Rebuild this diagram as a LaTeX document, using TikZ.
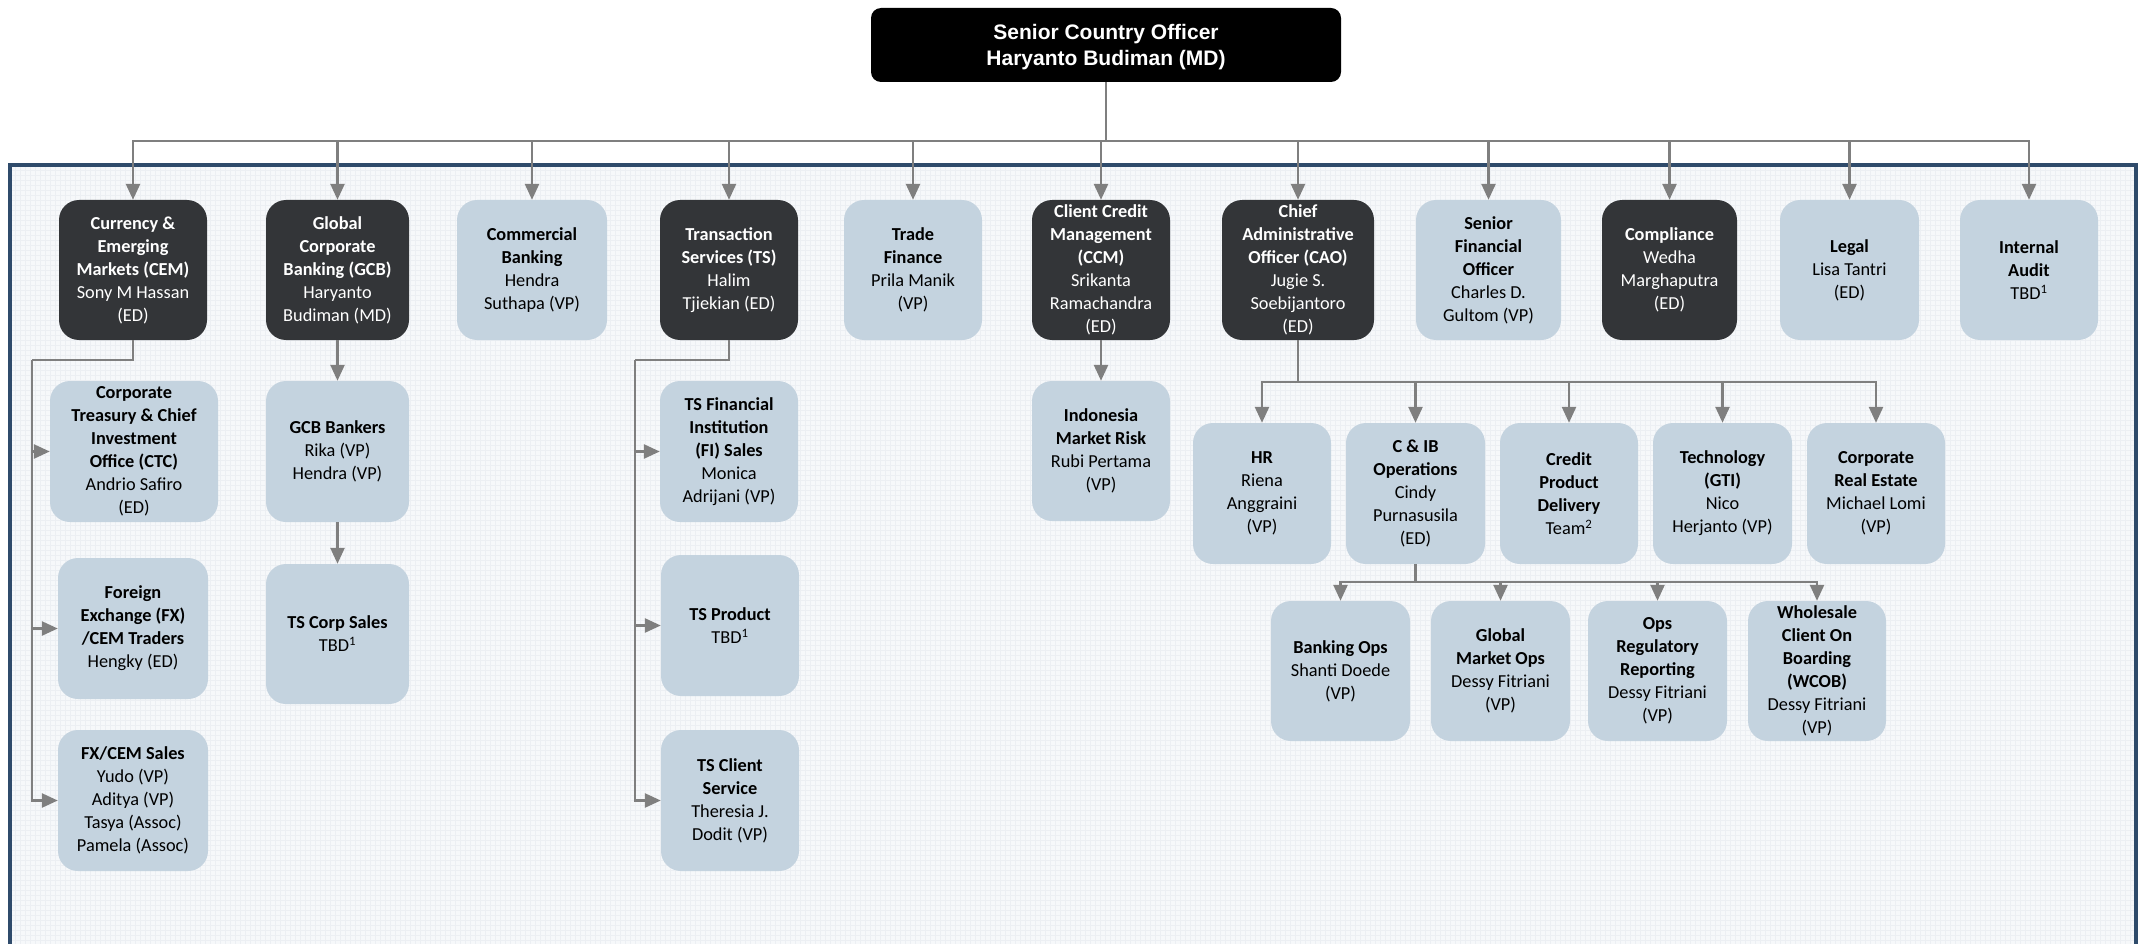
\documentclass[tikz,border=0pt]{standalone}
\usepackage{fontspec}
\setmainfont{Carlito}
\newfontfamily\arialfont{Liberation Sans}
\usetikzlibrary{arrows.meta,calc}
\definecolor{lightbox}{HTML}{C4D3DF}
\definecolor{darkbox}{HTML}{333538}
\definecolor{conn}{HTML}{7F7F7F}
\definecolor{panelborder}{HTML}{2F4B6B}
\definecolor{panelfill}{HTML}{F6F8FA}
\definecolor{gridc}{HTML}{ECEFF3}
\begin{document}
\begin{tikzpicture}[x=1pt,y=-1pt,
 box/.style={rectangle, rounded corners=20pt, inner sep=0pt, align=center, font=\fontsize{18.3}{23}\selectfont},
 lbox/.style={box, fill=lightbox, text=black},
 dbox/.style={box, fill=darkbox, text=white},
 sz/.style 2 args={minimum width=#1pt, minimum height=#2pt},
 line/.style={draw=conn, line width=2.6pt},
 arr/.style={line, -{Triangle[width=14pt,length=16pt]}},
]
\useasboundingbox (0,0) rectangle (2138,944);
% panel
\fill[panelfill] (10,165) rectangle (2136,960);
\begin{scope}
\clip (12,167) rectangle (2134,944);
\draw[gridc, line width=0.4pt, step=5pt] (12,167) grid (2134,944);
\end{scope}
\draw[panelborder, line width=4pt] (10,960) -- (10,165) -- (2136,165) -- (2136,960);

% top
\node[fill=black, rounded corners=10pt, minimum width=470pt, minimum height=74pt, inner sep=0pt] (sco) at (1106,45) {};
\node[text=white, inner sep=0pt, align=center, font=\arialfont\bfseries\fontsize{21}{26}\selectfont] (scotext) at (1106,47) {Senior Country Officer\\Haryanto Budiman (MD)};

% level 1
\node[dbox, sz={148}{140}] (cem) at (133,270) {\textbf{Currency \&}\\\textbf{Emerging}\\\textbf{Markets (CEM)}\\Sony M Hassan\\(ED)};
\node[dbox, sz={143}{140}] (gcb) at (337.5,270) {\textbf{Global}\\\textbf{Corporate}\\\textbf{Banking (GCB)}\\Haryanto\\Budiman (MD)};
\node[lbox, sz={150}{140}] (comb) at (532,270) {\textbf{Commercial}\\\textbf{Banking}\\Hendra\\Suthapa (VP)};
\node[dbox, sz={138}{140}] (ts) at (729,270) {\textbf{Transaction}\\\textbf{Services (TS)}\\Halim\\Tjiekian (ED)};
\node[lbox, sz={138}{140}] (tf) at (913,270) {\textbf{Trade}\\\textbf{Finance}\\Prila Manik\\(VP)};
\node[dbox, sz={138}{140}] (ccm) at (1101,270) {\textbf{Client Credit}\\\textbf{Management}\\\textbf{(CCM)}\\Srikanta\\Ramachandra\\(ED)};
\node[dbox, sz={152}{140}] (cao) at (1298,270) {\textbf{Chief}\\\textbf{Administrative}\\\textbf{Officer (CAO)}\\Jugie S.\\Soebijantoro\\(ED)};
\node[lbox, sz={145}{140}] (sfo) at (1488.5,270) {\textbf{Senior}\\\textbf{Financial}\\\textbf{Officer}\\Charles D.\\Gultom (VP)};
\node[dbox, sz={135}{140}] (comp) at (1669.5,270) {\textbf{Compliance}\\Wedha\\Marghaputra\\(ED)};
\node[lbox, sz={139}{140}] (legal) at (1849.5,270) {\textbf{Legal}\\Lisa Tantri\\(ED)};
\node[lbox, sz={138}{140}] (ia) at (2029,270) {\textbf{Internal}\\\textbf{Audit}\\TBD\textsuperscript{1}};

% level 2
\node[lbox, sz={168}{141}] (ctc) at (134,451.5) {\textbf{Corporate}\\\textbf{Treasury \& Chief}\\\textbf{Investment}\\\textbf{Office (CTC)}\\Andrio Safiro\\(ED)};
\node[lbox, sz={150}{141}] (fxt) at (133,628.5) {\textbf{Foreign}\\\textbf{Exchange (FX)}\\\textbf{/CEM Traders}\\Hengky (ED)};
\node[lbox, sz={150}{141}] (fxs) at (133,800.5) {\textbf{FX/CEM Sales}\\Yudo (VP)\\Aditya (VP)\\Tasya (Assoc)\\Pamela (Assoc)};
\node[lbox, sz={143}{141}] (gcbb) at (337.5,451.5) {\textbf{GCB Bankers}\\Rika (VP)\\Hendra (VP)};
\node[lbox, sz={143}{140}] (tscs) at (337.5,634) {\textbf{TS Corp Sales}\\TBD\textsuperscript{1}};
\node[lbox, sz={138}{141}] (tsfi) at (729,451.5) {\textbf{TS Financial}\\\textbf{Institution}\\\textbf{(FI) Sales}\\Monica\\Adrijani (VP)};
\node[lbox, sz={138}{141}] (tsp) at (730,625.5) {\textbf{TS Product}\\TBD\textsuperscript{1}};
\node[lbox, sz={138}{141}] (tscl) at (730,800.5) {\textbf{TS Client}\\\textbf{Service}\\Theresia J.\\Dodit (VP)};
\node[lbox, sz={138}{140}] (imr) at (1101,451) {\textbf{Indonesia}\\\textbf{Market Risk}\\Rubi Pertama\\(VP)};

% level 3
\node[lbox, sz={138}{141}] (hr) at (1262,493.5) {\textbf{HR}\\Riena\\Anggraini\\(VP)};
\node[lbox, sz={139}{141}] (cib) at (1415.5,493.5) {\textbf{C \& IB}\\\textbf{Operations}\\Cindy\\Purnasusila\\(ED)};
\node[lbox, sz={138}{141}] (cpd) at (1569,493.5) {\textbf{Credit}\\\textbf{Product}\\\textbf{Delivery}\\Team\textsuperscript{2}};
\node[lbox, sz={139}{141}] (tech) at (1722.5,493.5) {\textbf{Technology}\\\textbf{(GTI)}\\Nico\\Herjanto (VP)};
\node[lbox, sz={138}{141}] (cre) at (1876,493.5) {\textbf{Corporate}\\\textbf{Real Estate}\\Michael Lomi\\(VP)};

% level 4
\node[lbox, sz={139}{140}] (bops) at (1340.5,671) {\textbf{Banking Ops}\\Shanti Doede\\(VP)};
\node[lbox, sz={139}{140}] (gmo) at (1500.5,671) {\textbf{Global}\\\textbf{Market Ops}\\Dessy Fitriani\\(VP)};
\node[lbox, sz={139}{140}] (opsreg) at (1657.5,671) {\textbf{Ops}\\\textbf{Regulatory}\\\textbf{Reporting}\\Dessy Fitriani\\(VP)};
\node[lbox, sz={138}{140}] (wcob) at (1817,671) {\textbf{Wholesale}\\\textbf{Client On}\\\textbf{Boarding}\\\textbf{(WCOB)}\\Dessy Fitriani\\(VP)};

% connectors
\coordinate (bus) at (0,141);
\foreach \n in {cem,gcb,comb,ts,tf,ccm,cao,sfo,comp,legal,ia}
  \draw[arr] (sco.south) -- (sco.south |- bus) -| (\n.north);

\coordinate (cemL) at (32,360);
\draw[line] (cem.south) |- (cemL);
\foreach \n in {ctc,fxt,fxs} \draw[arr] (cemL) |- (\n.west);

\draw[arr] (gcb.south) -- (gcbb.north);
\draw[arr] (gcbb.south) -- (tscs.north);

\coordinate (tsL) at (635,360);
\draw[line] (ts.south) |- (tsL);
\foreach \n in {tsfi,tsp,tscl} \draw[arr] (tsL) |- (\n.west);

\draw[arr] (ccm.south) -- (imr.north);

\coordinate (caobus) at (0,382);
\foreach \n in {hr,cib,cpd,tech,cre}
  \draw[arr] (cao.south) -- (cao.south |- caobus) -| (\n.north);

\coordinate (cibbus) at (0,582);
\foreach \n in {bops,gmo,opsreg,wcob}
  \draw[arr] (cib.south) -- (cib.south |- cibbus) -| (\n.north);
\end{tikzpicture}
\end{document}
